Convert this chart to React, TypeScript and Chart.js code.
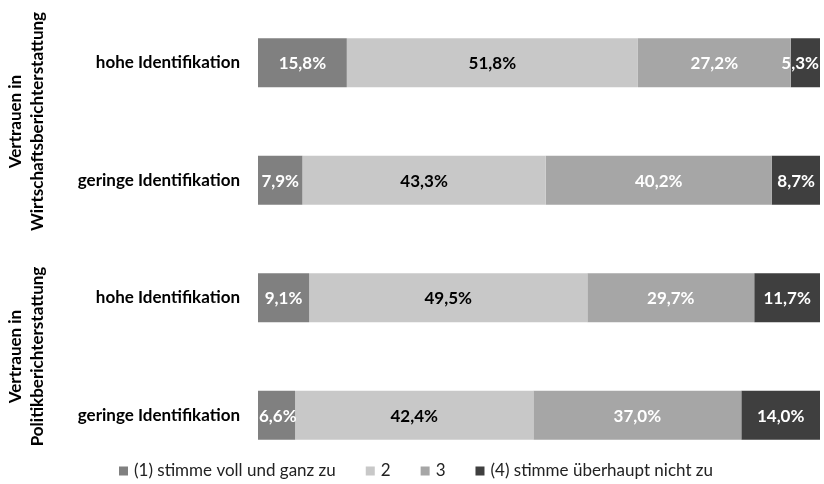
import React, { useEffect, useRef } from "react";
import { Chart, registerables } from "chart.js";

Chart.register(...registerables);

const categories = ["hohe Identifikation", "geringe Identifikation", "hohe Identifikation", "geringe Identifikation"];
const groupLabels = [
  ["Vertrauen in", "Wirtschaftsberichterstattung"],
  ["Vertrauen in", "Politikberichterstattung"],
];
const seriesNames = ["(1) stimme voll und ganz zu", "2", "3", "(4) stimme überhaupt nicht zu"];
const s1 = [15.8, 7.9, 9.1, 6.6];
const s2 = [51.8, 43.3, 49.5, 42.4];
const s3 = [27.2, 40.2, 29.7, 37.0];
const s4 = [5.3, 8.7, 11.7, 14.0];
const seriesColors = ["#808080", "#c8c8c8", "#a6a6a6", "#3f3f3f"];
const labelColors = ["#ffffff", "#000000", "#ffffff", "#ffffff"];

const FONT = "Lato";

const fmt = (v: number) => v.toFixed(1).replace(".", ",") + "%";

const valueLabels = {
  id: "valueLabels",
  afterDatasetsDraw(chart: any) {
    const ctx = chart.ctx;
    const area = chart.chartArea;
    ctx.save();
    ctx.font = `bold 17px ${FONT}`;
    ctx.textBaseline = "middle";
    ctx.textAlign = "center";
    chart.data.datasets.forEach((ds: any, di: number) => {
      const meta = chart.getDatasetMeta(di);
      meta.data.forEach((bar: any, i: number) => {
        const v = ds.data[i];
        const t = fmt(v);
        const w = ctx.measureText(t).width;
        let x = (bar.x + bar.base) / 2;
        x = Math.max(x, area.left + w / 2 + 1);
        x = Math.min(x, area.right - w / 2 - 1);
        ctx.fillStyle = labelColors[di];
        ctx.fillText(t, x, bar.y + 1);
      });
    });
    ctx.restore();
  },
};

const groupTitles = {
  id: "groupTitles",
  afterDraw(chart: any) {
    const ctx = chart.ctx;
    const y = chart.scales.y;
    ctx.save();
    ctx.font = `bold 17px ${FONT}`;
    ctx.fillStyle = "#000";
    ctx.textAlign = "center";
    ctx.textBaseline = "middle";
    groupLabels.forEach((lines, g) => {
      const cy = (y.getPixelForValue(g * 2) + y.getPixelForValue(g * 2 + 1)) / 2;
      lines.forEach((line, li) => {
        ctx.save();
        ctx.translate(16 + li * 22, cy);
        ctx.rotate(-Math.PI / 2);
        ctx.fillText(line, 0, 0);
        ctx.restore();
      });
    });
    ctx.restore();
  },
};

const customLegend = {
  id: "customLegend",
  afterDraw(chart: any) {
    const ctx = chart.ctx;
    ctx.save();
    ctx.font = `17px ${FONT}`;
    ctx.textBaseline = "middle";
    ctx.textAlign = "left";
    const box = 9;
    const gapBox = 6;
    const gapItem = 30;
    const widths = seriesNames.map((n) => box + gapBox + ctx.measureText(n).width);
    const total = widths.reduce((a, b) => a + b, 0) + gapItem * (seriesNames.length - 1);
    let x = (chart.width - total) / 2 + 4;
    const cy = 471;
    seriesNames.forEach((n, i) => {
      ctx.fillStyle = seriesColors[i];
      ctx.fillRect(x, cy - box / 2, box, box);
      ctx.fillStyle = "#222";
      ctx.fillText(n, x + box + gapBox, cy);
      x += widths[i] + gapItem;
    });
    ctx.restore();
  },
};

export default function App() {
  const ref = useRef<HTMLCanvasElement>(null);
  useEffect(() => {
    if (!ref.current) return;
    const series = [s1, s2, s3, s4];
    const chart = new Chart(ref.current, {
      type: "bar",
      data: {
        labels: categories,
        datasets: series.map((d, i) => ({
          label: seriesNames[i],
          data: d,
          backgroundColor: seriesColors[i],
          borderWidth: 0,
          barPercentage: 0.83,
          categoryPercentage: 0.5,
        })),
      },
      options: {
        indexAxis: "y",
        animation: false,
        responsive: true,
        maintainAspectRatio: false,
        layout: { padding: { left: 0, right: 4, top: 4, bottom: 10 } },
        plugins: {
          legend: { display: false },
          tooltip: { enabled: false },
        },
        scales: {
          x: {
            stacked: true,
            min: 0,
            max: 100,
            display: false,
          },
          y: {
            stacked: true,
            grid: { display: false, drawTicks: false },
            border: { display: false },
            ticks: {
              padding: 18,
              color: "#000",
              font: { family: FONT, size: 17, weight: "bold" },
            },
            afterFit(scale: any) {
              scale.width = 258;
              scale.paddingTop = 0;
              scale.paddingBottom = 0;
            },
          },
        },
      },
      plugins: [valueLabels, groupTitles, customLegend],
    } as any);
    return () => chart.destroy();
  }, []);
  return (
    <div style={{ position: "absolute", left: 0, top: 0, width: 824, height: 484, background: "#fff" }}>
      <canvas ref={ref} />
    </div>
  );
}
